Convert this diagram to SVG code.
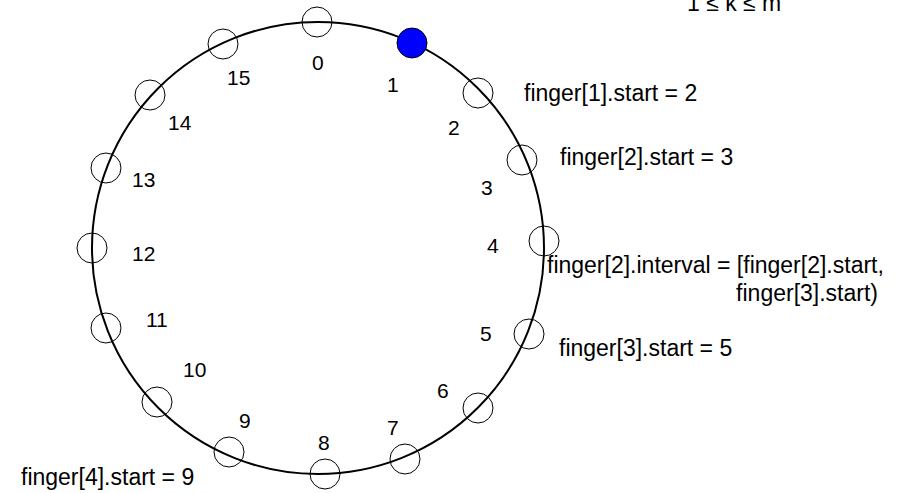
<svg xmlns="http://www.w3.org/2000/svg" width="908" height="493" viewBox="0 0 908 493">
  <style>
    text { font-family: "Liberation Sans", Arial, sans-serif; fill: #000; }
    .num { font-size: 21px; }
    .lbl { font-size: 23px; }
    .ring { fill: none; stroke: #000; stroke-width: 2; }
    .node circle { fill: none; stroke: #000; stroke-width: 1; }
    .node circle.owner { fill: #0000ff; }
  </style>
  <rect width="908" height="493" fill="#fff"/>

  <!-- identifier ring -->
  <g id="connectors">
    <circle class="ring" cx="318" cy="248" r="226"/>
  </g>

  <!-- ring positions 0..15 -->
  <g id="node-0" class="node"><circle cx="317" cy="22" r="15"/><text class="num" x="312" y="70">0</text></g>
  <g id="node-1" class="node"><circle class="owner" cx="412" cy="43" r="15"/><text class="num" x="387" y="92">1</text></g>
  <g id="node-2" class="node"><circle cx="478" cy="93" r="15"/><text class="num" x="448" y="135">2</text></g>
  <g id="node-3" class="node"><circle cx="522" cy="160" r="15"/><text class="num" x="481" y="195">3</text></g>
  <g id="node-4" class="node"><circle cx="544" cy="241" r="15"/><text class="num" x="487" y="253">4</text></g>
  <g id="node-5" class="node"><circle cx="529" cy="334" r="15"/><text class="num" x="480" y="341">5</text></g>
  <g id="node-6" class="node"><circle cx="478" cy="408" r="15"/><text class="num" x="437" y="398">6</text></g>
  <g id="node-7" class="node"><circle cx="405" cy="459" r="15"/><text class="num" x="387" y="435">7</text></g>
  <g id="node-8" class="node"><circle cx="325" cy="474" r="15"/><text class="num" x="318" y="450">8</text></g>
  <g id="node-9" class="node"><circle cx="229" cy="452" r="15"/><text class="num" x="239" y="428">9</text></g>
  <g id="node-10" class="node"><circle cx="157" cy="402" r="15"/><text class="num" x="183" y="377">10</text></g>
  <g id="node-11" class="node"><circle cx="106" cy="328" r="15"/><text class="num" x="146" y="327">11</text></g>
  <g id="node-12" class="node"><circle cx="92" cy="248" r="15"/><text class="num" x="132" y="261">12</text></g>
  <g id="node-13" class="node"><circle cx="106" cy="168" r="15"/><text class="num" x="132" y="187">13</text></g>
  <g id="node-14" class="node"><circle cx="150" cy="95" r="15"/><text class="num" x="168" y="130">14</text></g>
  <g id="node-15" class="node"><circle cx="223" cy="44" r="15"/><text class="num" x="227" y="85">15</text></g>

  <!-- finger table annotations -->
  <g id="annotations">
    <text class="lbl" x="687" y="11">1 ≤ k ≤ m</text>
    <text class="lbl" x="524" y="101">finger[1].start = 2</text>
    <text class="lbl" x="560" y="165">finger[2].start = 3</text>
    <text class="lbl" x="547" y="273">finger[2].interval = [finger[2].start,</text>
    <text class="lbl" x="878" y="301" text-anchor="end">finger[3].start)</text>
    <text class="lbl" x="559" y="356">finger[3].start = 5</text>
    <text class="lbl" x="21" y="485">finger[4].start = 9</text>
  </g>
</svg>
